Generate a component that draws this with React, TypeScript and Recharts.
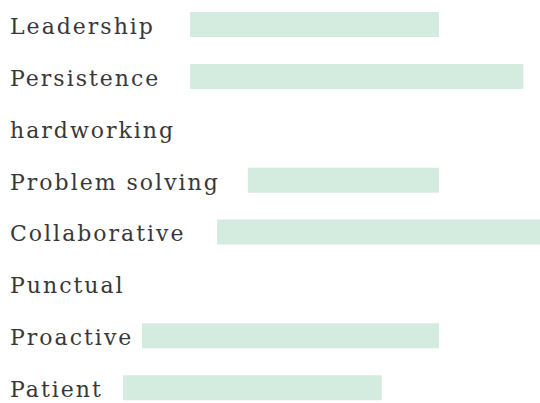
import { BarChart, Bar, XAxis, YAxis } from "recharts";

const skills = [
  "Leadership",
  "Persistence",
  "hardworking",
  "Problem solving",
  "Collaborative",
  "Punctual",
  "Proactive",
  "Patient",
];

// start / end of each bar, in percent of the width (null = no bar)
const starts = [35.2, 35.2, null, 45.9, 40.2, null, 26.3, 22.8];
const ends = [81.3, 96.9, null, 81.3, 100, null, 81.3, 70.7];

const data = skills.map((name, i) => ({
  name,
  range: starts[i] === null ? null : [starts[i], ends[i]],
}));

function SkillTick(props: any) {
  const { y, payload } = props;
  return (
    <text
      x={10}
      y={y + 9}
      fill="#383838"
      textAnchor="start"
      style={{
        fontFamily: '"DejaVu Serif", serif',
        fontSize: 22,
        letterSpacing: 2,
      }}
    >
      {payload.value}
    </text>
  );
}

function App() {
  return (
    <div
      style={{
        position: "absolute",
        left: 0,
        top: 0,
        width: 540,
        height: 403,
        overflow: "hidden",
        background: "#fff",
      }}
    >
      <div style={{ marginTop: -1 }}>
        <BarChart
          width={540}
          height={415}
          data={data}
          layout="vertical"
          margin={{ top: 0, right: 0, bottom: 0, left: 0 }}
        >
          <XAxis type="number" domain={[0, 100]} hide />
          <YAxis
            type="category"
            dataKey="name"
            mirror
            axisLine={false}
            tickLine={false}
            tick={<SkillTick />}
            interval={0}
          />
          <Bar
            dataKey="range"
            fill="#d4ece0"
            barSize={25}
            isAnimationActive={false}
          />
        </BarChart>
      </div>
    </div>
  );
}

export default App;
